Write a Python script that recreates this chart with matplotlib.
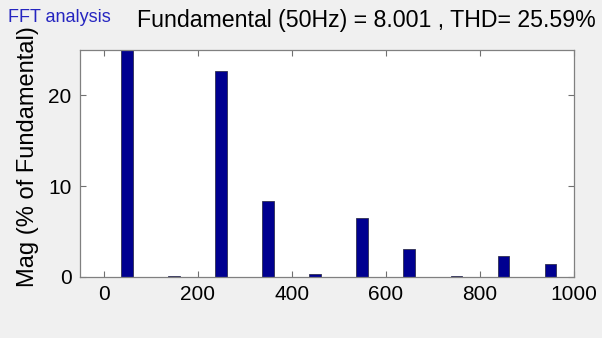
import numpy as np
import matplotlib.pyplot as plt

plt.rcParams['font.family'] = ['Liberation Sans', 'DejaVu Sans']

# harmonic frequencies (Hz) and magnitude in % of fundamental
freq = [0, 50, 100, 150, 200, 250, 300, 350, 400, 450, 500,
        550, 600, 650, 700, 750, 800, 850, 900, 950]
mag = [0.0, 100.0, 0.03, 0.15, 0.03, 22.7, 0.03, 8.4, 0.03, 0.33, 0.03,
       6.55, 0.03, 3.12, 0.03, 0.06, 0.03, 2.31, 0.03, 1.43]
xticks = [0, 200, 400, 600, 800, 1000]
yticks = [0, 10, 20]
title = 'Fundamental (50Hz) = 8.001 , THD= 25.59%'

fig = plt.figure(figsize=(6.02, 3.38), dpi=100, facecolor='#f0f0f0')
ax = fig.add_axes([80/602, 61/338, 494/602, 227/338])
ax.set_facecolor('white')

ax.bar(freq, mag, width=25, color='#000090', edgecolor='#303050', linewidth=0.6)

ax.set_xlim(-50, 1000)
ax.set_ylim(0, 25)
ax.set_xticks(xticks)
ax.set_yticks(yticks)
ax.tick_params(direction='in', length=4, color='#707070', labelsize=15,
               top=True, right=True, pad=6)
for s in ax.spines.values():
    s.set_color('#808080')
    s.set_linewidth(0.9)

ax.set_ylabel('Mag (% of Fundamental)', fontsize=17)
ax.yaxis.set_label_coords(-41/494, 0.53)
fig.text(596/602, 1 - 21/338, title, fontsize=16.7, ha='right', va='center')
fig.text(8/602, 1 - 18/338, 'FFT analysis', fontsize=13, color='#2525c0',
         va='center', ha='left')

fig.savefig('out.png', dpi=100, facecolor=fig.get_facecolor())
